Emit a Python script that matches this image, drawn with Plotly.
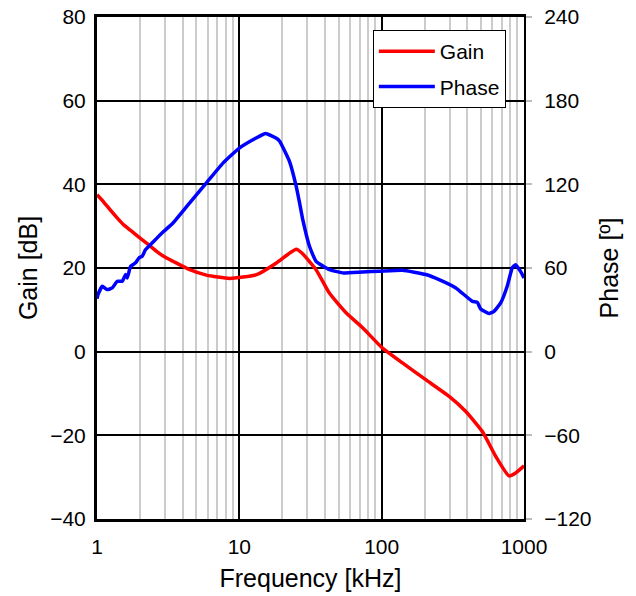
import plotly.graph_objects as go

# ---- data ----
gain_freq = [1, 1.1, 1.23, 1.4, 1.53, 1.75, 2.0, 2.3, 2.62, 3.0, 3.42, 4.48, 5.87, 8.55, 13.2,
             18.2, 22.0, 25.1, 27.5, 34.6, 42.9, 56.2, 73.5, 101, 140, 204, 298, 390, 510,
             632, 784, 873, 1000]
gain_db = [37.5, 36.0, 34.0, 31.8, 30.4, 28.8, 27.2, 25.6, 24.0, 22.6, 21.6, 19.6, 18.3, 17.5,
           18.4, 21.2, 23.3, 24.5, 23.6, 19.6, 14.0, 9.3, 5.7, 0.9, -2.7, -6.7, -10.7, -14.3,
           -19.1, -25.0, -29.7, -29.0, -27.3]

phase_freq = [1, 1.016, 1.089, 1.181, 1.28, 1.388, 1.504, 1.589, 1.631, 1.722, 1.867, 1.97,
              2.078, 2.194, 2.379, 2.645, 2.947, 3.42, 4.48, 5.87, 7.7, 10, 13.2, 15.3,
              18.2, 19.2, 22.5, 25.1, 26.5, 27.9, 31.1, 34.6, 42.9, 53.1, 73.5, 96.2, 140,
              204, 253, 332, 434, 470, 496, 568, 615, 686, 762, 826, 873, 946, 1000]
phase_deg = [38, 40.9, 46.9, 44.5, 45.7, 50.5, 50.5, 55.3, 52.9, 61.2, 63.7, 67.2,
             68.4, 73.2, 76.8, 81.6, 86.3, 92.3, 106.7, 121, 135.4, 146, 153.4, 156.5,
             153, 150.9, 136.5, 118.6, 106.7, 94.7, 75.6, 64.8, 58.9, 56.5, 57.2, 57.6, 58.3,
             55.3, 51.7, 45.7, 36.1, 35.4, 30.6, 27.3, 28.9, 35, 46.9, 60, 62.4, 57.6, 52.9]

x_ticks = [1, 10, 100, 1000]
x_tick_labels = ["1", "10", "100", "1000"]
gain_ticks = [-40, -20, 0, 20, 40, 60, 80]
phase_ticks = [-120, -60, 0, 60, 120, 180, 240]

FONT = "Liberation Sans, Arial, sans-serif"
FS = 21

fig = go.Figure()
fig.add_trace(go.Scatter(x=gain_freq, y=gain_db, name="Gain", mode="lines",
                         line=dict(color="#ff0000", width=3.5, shape="spline", smoothing=0.5),
                         legendgroup="g1"))
fig.add_trace(go.Scatter(x=phase_freq, y=phase_deg, name="Phase", mode="lines", yaxis="y2",
                         line=dict(color="#0000ff", width=3.5, shape="spline", smoothing=0.4),
                         legendgroup="g2"))

fig.update_layout(
    width=636, height=596,
    margin=dict(l=97, r=112, t=17, b=77),
    paper_bgcolor="white", plot_bgcolor="white",
    font=dict(family=FONT, size=FS, color="black"),
    showlegend=True,
    legend=dict(x=0.646, y=0.974, xanchor="left", yanchor="top",
                bgcolor="white", bordercolor="black", borderwidth=1,
                itemwidth=56,
                font=dict(size=FS), traceorder="grouped", tracegroupgap=5),
    xaxis=dict(type="log", range=[0, 3], tickvals=x_ticks, ticktext=x_tick_labels,
               showgrid=True, gridcolor="black", gridwidth=1.5,
               minor=dict(showgrid=True, gridcolor="#cccccc", gridwidth=2, dtick="D1"),
               showline=True, linecolor="black", linewidth=3, mirror=True,
               ticks="", ticklabelstandoff=7, automargin=False,
               title=dict(text="Frequency [kHz]", standoff=13),
               zeroline=False),
    yaxis=dict(range=[-40, 80], tickvals=gain_ticks, showgrid=True, gridcolor="black",
               gridwidth=2, zeroline=False, showline=True, linecolor="black", linewidth=3,
               ticks="", ticklabelstandoff=4, automargin=False,
               title=dict(text="Gain [dB]", standoff=6)),
    yaxis2=dict(range=[-120, 240], tickvals=phase_ticks, overlaying="y", side="right",
                showgrid=False, zeroline=False, showline=True, linecolor="black", linewidth=2,
                ticks="outside", ticklen=6, tickcolor="#bbbbbb", tickwidth=2,
                ticklabelstandoff=8, automargin=False,
                title=dict(text="Phase [º]", standoff=10)),
)

fig.write_html("out.html", config={"displayModeBar": False},
               post_script="document.body.style.margin='0px';")
